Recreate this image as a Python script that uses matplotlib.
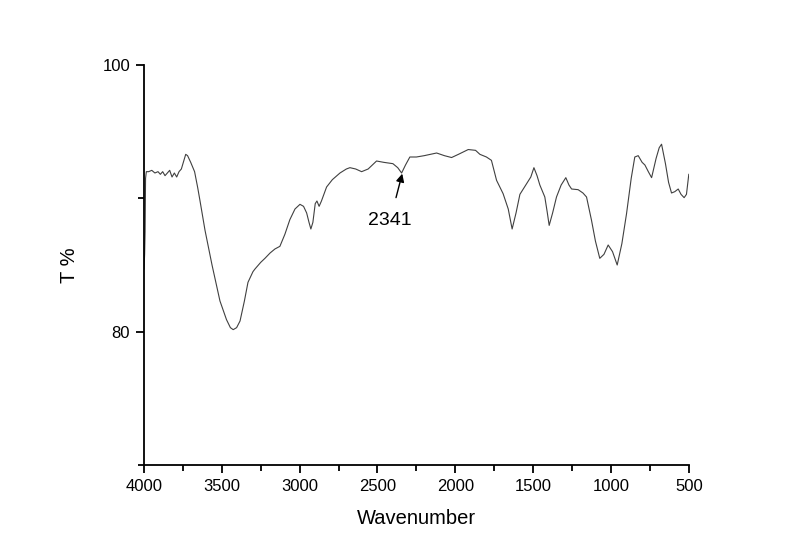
import matplotlib
matplotlib.use("Agg")
import matplotlib.pyplot as plt
from matplotlib.ticker import MultipleLocator

plt.rcParams['font.family'] = ['Liberation Sans', 'DejaVu Sans']

# spectrum (wavenumber, transmittance %)
wavenumber = [4000, 3996, 3993, 3990, 3985, 3970, 3950, 3930, 3910, 3895, 3880,
              3865, 3850, 3835, 3820, 3805, 3790, 3775, 3760, 3745, 3732, 3720,
              3700, 3675, 3655, 3640, 3608, 3563, 3512, 3470, 3445, 3427, 3405,
              3383, 3355, 3332, 3300, 3287, 3250, 3223, 3190, 3159, 3127, 3095,
              3063, 3030, 2998, 2975, 2955, 2940, 2928, 2915, 2900, 2889, 2875,
              2860, 2827, 2790, 2741, 2700, 2677, 2640, 2602, 2560, 2506, 2460,
              2401, 2370, 2345, 2320, 2292, 2250, 2200, 2120, 2070, 2024, 1980,
              1917, 1870, 1842, 1800, 1768, 1735, 1693, 1660, 1635, 1610, 1585,
              1542, 1515, 1495, 1475, 1457, 1425, 1410, 1397, 1375, 1350, 1320,
              1290, 1270, 1253, 1211, 1180, 1157, 1125, 1100, 1072, 1045, 1018,
              990, 960, 930, 900, 870, 847, 825, 800, 782, 760, 739, 710, 690,
              675, 650, 630, 611, 590, 568, 550, 530, 515, 500]
transmit = [84.7, 85.8, 87.5, 91.5, 92.0, 92.0, 92.1, 91.9, 92.0, 91.8, 92.0,
            91.7, 91.9, 92.1, 91.6, 91.9, 91.6, 92.0, 92.2, 92.8, 93.3, 93.2,
            92.7, 92.0, 90.8, 89.8, 87.6, 85.0, 82.3, 80.9, 80.3, 80.15, 80.3,
            80.8, 82.3, 83.7, 84.5, 84.7, 85.2, 85.5, 85.9, 86.2, 86.4, 87.3,
            88.4, 89.2, 89.55, 89.4, 88.9, 88.2, 87.7, 88.2, 89.6, 89.8, 89.4,
            89.8, 90.85, 91.4, 91.9, 92.2, 92.3, 92.2, 92.0, 92.2, 92.8, 92.7,
            92.6, 92.3, 91.9, 92.5, 93.1, 93.1, 93.2, 93.4, 93.2, 93.06, 93.3,
            93.66, 93.6, 93.3, 93.1, 92.85, 91.35, 90.35, 89.2, 87.7, 88.9, 90.3,
            91.1, 91.6, 92.3, 91.7, 91.0, 90.1, 89.0, 87.97, 88.9, 90.1, 91.0,
            91.55, 91.0, 90.7, 90.65, 90.4, 90.1, 88.35, 86.8, 85.5, 85.8, 86.5,
            86.0, 85.0, 86.6, 88.85, 91.5, 93.1, 93.2, 92.7, 92.5, 92.0, 91.55,
            93.0, 93.8, 94.06, 92.6, 91.2, 90.4, 90.5, 90.7, 90.3, 90.05, 90.3,
            91.8]

peak_label = "2341"
peak_x = 2341
peak_y = 91.9

fig = plt.figure(figsize=(8, 5.58), dpi=100)
ax = fig.add_axes([0.18, 0.1667, 0.681, 0.7168])

ax.plot(wavenumber, transmit, color="#404040", linewidth=0.8)

ax.set_xlim(4000, 500)
ax.set_ylim(70, 100)

# origin style axes: only left and bottom, ticks outward
ax.spines["top"].set_visible(False)
ax.spines["right"].set_visible(False)
ax.spines["left"].set_linewidth(1.3)
ax.spines["bottom"].set_linewidth(1.3)
ax.xaxis.set_major_locator(MultipleLocator(500))
ax.xaxis.set_minor_locator(MultipleLocator(250))
ax.set_yticks([80, 100])
ax.yaxis.set_minor_locator(MultipleLocator(10))
ax.tick_params(which="major", direction="out", length=6, width=1.3,
               labelsize=12, pad=4)
ax.tick_params(which="minor", direction="out", length=4, width=1.3)

ax.set_xlabel("Wavenumber", fontsize=14.5, labelpad=11)
ax.set_ylabel("T %", fontsize=14.5, labelpad=17)

# annotation with arrow
ax.annotate(peak_label, xy=(peak_x, peak_y - 0.05), xytext=(2420, 88.3),
            fontsize=14, ha="center", va="center",
            arrowprops=dict(arrowstyle="-|>", color="black", lw=1.0,
                            mutation_scale=12, shrinkA=9, shrinkB=0))

plt.savefig("out.png", dpi=100)
